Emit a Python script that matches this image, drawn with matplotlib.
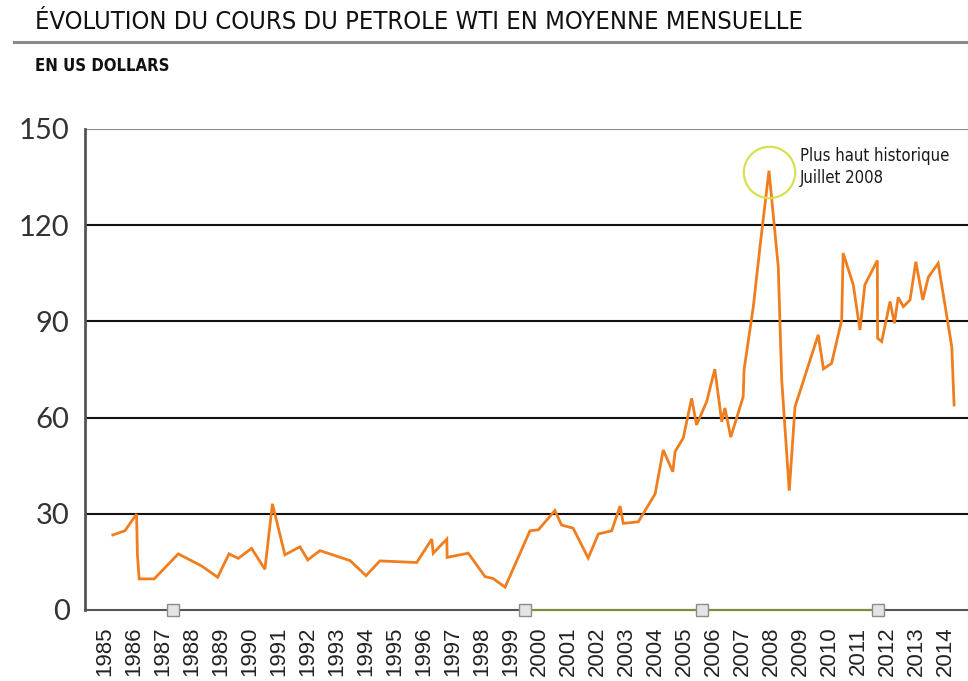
import numpy as np
import matplotlib.pyplot as plt

# cours moyen du WTI (annee decimale, dollars)
annees = [1985.27, 1985.69, 1986.09, 1986.12, 1986.18, 1986.70, 1987.53, 1988.34, 1988.89,
          1989.28, 1989.60, 1990.06, 1990.52, 1990.78, 1991.21, 1991.73, 1992.00, 1992.42,
          1993.46, 1994.01, 1994.49, 1995.76, 1996.28, 1996.33, 1996.80, 1996.81, 1997.54,
          1998.12, 1998.40, 1998.81, 1999.67, 1999.96, 2000.53, 2000.76, 2001.16, 2001.68,
          2002.03, 2002.49, 2002.78, 2002.89, 2003.41, 2003.99, 2004.27, 2004.60, 2004.68,
          2004.96, 2005.25, 2005.42, 2005.77, 2006.05, 2006.29, 2006.40, 2006.60, 2007.03,
          2007.06, 2007.38, 2007.61, 2007.92, 2008.24, 2008.36, 2008.62, 2008.82, 2009.62,
          2009.80, 2010.08, 2010.43, 2010.48, 2010.83, 2011.06, 2011.23, 2011.66, 2011.67,
          2011.81, 2012.10, 2012.25, 2012.38, 2012.56, 2012.79, 2012.99, 2013.23, 2013.42,
          2013.76, 2014.23, 2014.31]
prix = [23.4, 24.7, 29.9, 17.2, 9.7, 9.7, 17.5, 13.7, 10.2,
        17.5, 16.1, 19.2, 12.7, 33.1, 17.2, 19.7, 15.6, 18.5,
        15.4, 10.7, 15.3, 14.8, 22.1, 17.7, 22.1, 16.4, 17.7,
        10.4, 9.8, 7.1, 24.7, 25.0, 31.0, 26.5, 25.5, 16.2,
        23.7, 24.7, 32.4, 27.0, 27.5, 36.2, 49.9, 43.1, 49.4,
        53.6, 66.0, 57.7, 65.0, 75.1, 58.7, 63.0, 53.9, 66.5,
        74.9, 94.6, 113.3, 137.0, 107.1, 71.7, 37.2, 63.4, 85.8,
        75.2, 76.9, 90.4, 111.3, 101.4, 87.3, 101.4, 109.0, 84.7,
        83.7, 96.2, 89.4, 97.5, 94.6, 96.7, 108.6, 96.7, 103.8,
        108.1, 82.1, 63.9]

ticks_annees = list(range(1985, 2015))
ticks_prix = [0, 30, 60, 90, 120, 150]
reperes = [1987.35, 1999.5, 2005.6, 2011.7]

orange = '#f07d1e'
police = 'DejaVu Sans'

fig = plt.figure(figsize=(9.68, 6.81), dpi=100)
ax = fig.add_axes([0.0878, 0.1043, 0.9122, 0.7063])

for v in ticks_prix[1:-1]:
    ax.axhline(v, color='#111111', lw=1.5, zorder=1)
ax.axhline(150, color='#8a8a8a', lw=1.5, zorder=1)

ax.plot(annees, prix, color=orange, lw=2, zorder=3, solid_joinstyle='miter')

# cercle sur le plus haut
ax.plot([2007.92], [136.5], 'o', ms=37, mfc='none', mec='#d9e04e', mew=1.6, zorder=4)
ax.text(2008.99, 144.4, "Plus haut historique\nJuillet 2008", fontsize=12,
        family=police, stretch='condensed', color='#1a1a1a', va='top', ha='left',
        linespacing=1.3)

ax.set_xlim(1984.31, 2014.79)
ax.set_ylim(0, 150)

ax.plot([reperes[1], reperes[3]], [0, 0], color='#7d8c3c', lw=1.5, zorder=5, clip_on=False)
ax.plot(reperes, [0] * len(reperes), 's', ms=8, mfc='#e4e4e4', mec='#8c8c8c', mew=1,
        zorder=6, clip_on=False)

for s in ['top', 'right']:
    ax.spines[s].set_visible(False)
ax.spines['left'].set_color('#555555')
ax.spines['left'].set_linewidth(2)
ax.spines['bottom'].set_color('#555555')
ax.spines['bottom'].set_linewidth(1.5)

ax.set_xticks(ticks_annees)
ax.set_xticklabels([str(a) for a in ticks_annees], rotation=90, fontsize=16,
                   family='Liberation Sans', color='#222222')
ax.set_yticks(ticks_prix)
ax.set_yticklabels([str(v) for v in ticks_prix], fontsize=21, family='Lato', color='#333333')
ax.tick_params(axis='x', length=0, pad=12)
ax.tick_params(axis='y', length=0, pad=11)

fig.text(0.036, 0.967, "ÉVOLUTION DU COURS DU PETROLE WTI EN MOYENNE MENSUELLE",
         fontsize=18.3, family=police, stretch='condensed', color='#111111', va='center')
fig.text(0.036, 0.903, "EN US DOLLARS", fontsize=12, family=police, stretch='condensed',
         weight='bold', color='#111111', va='center')
fig.add_artist(plt.Line2D([0.014, 1.0], [0.938, 0.938], color='#8a8a8a', lw=2.2))

fig.savefig('out.png', dpi=100)
